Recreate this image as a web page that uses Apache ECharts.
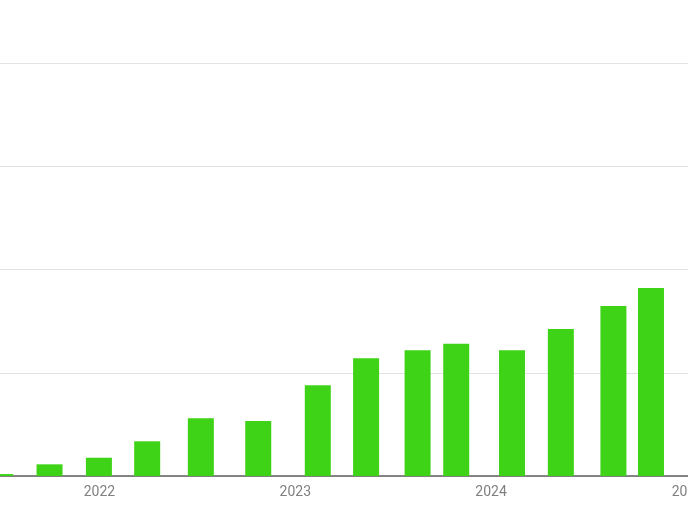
<!DOCTYPE html>
<html>
<head>
<meta charset="utf-8">
<script src="https://cdn.jsdelivr.net/npm/echarts@6/dist/echarts.min.js"></script>
<style>
html,body{margin:0;padding:0;background:#fff;}
#chart{width:688px;height:516px;}
</style>
</head>
<body>
<div id="chart"></div>
<script>
// Data
var dates = ['2021-06-30','2021-09-30','2021-12-31','2022-03-31','2022-07-09','2022-10-24',
             '2023-02-12','2023-05-13','2023-08-17','2023-10-28','2024-02-09','2024-05-10',
             '2024-08-16','2024-10-25'];
var values = [0.19, 1.13, 1.77, 3.36, 5.59, 5.33, 8.79, 11.40, 12.18, 12.82, 12.18, 14.24, 16.47, 18.22];
var yTicks = [0, 10, 20, 30, 40];

// visible time window
var viewStart = new Date('2021-06-29T16:00:00').getTime();
var viewEnd = new Date('2025-01-02T00:00:00').getTime();
var axisPx = 688, barPx = 26;
// ECharts widens a bar axis by half a bar on each side; pre-shrink to compensate
var span = viewEnd - viewStart;
var inner = span * (axisPx - barPx) / axisPx;
var pad = (span - inner) / 2;

var chart = echarts.init(document.getElementById('chart'));
chart.setOption({
  animation: false,
  grid: { left: 0, right: 0, top: 63, bottom: 40, containLabel: false, outerBoundsMode: 'none' },
  xAxis: {
    type: 'time',
    min: viewStart + pad,
    max: viewEnd - pad,
    splitNumber: 4,
    axisLine: { show: true, lineStyle: { color: '#5f5f5f', width: 1.5 } },
    axisTick: { show: false },
    splitLine: { show: false },
    axisLabel: {
      color: '#808080',
      fontSize: 14,
      fontFamily: 'Roboto',
      margin: 9,
      showMinLabel: true,
      showMaxLabel: true,
      hideOverlap: false,
      formatter: function (v) {
        var d = new Date(v);
        if (d.getMonth() === 0 && d.getDate() === 1) return String(d.getFullYear());
        return '';
      }
    }
  },
  yAxis: {
    type: 'value',
    min: yTicks[0],
    max: yTicks[yTicks.length - 1],
    interval: yTicks[1] - yTicks[0],
    axisLine: { show: false },
    axisTick: { show: false },
    axisLabel: { show: false },
    splitLine: { lineStyle: { color: '#e3e3e3', width: 1 } }
  },
  series: [{
    type: 'bar',
    barWidth: barPx,
    clip: true,
    itemStyle: { color: '#3ed316' },
    data: dates.map(function (d, i) { return [d, values[i]]; })
  }]
});
</script>
</body>
</html>
